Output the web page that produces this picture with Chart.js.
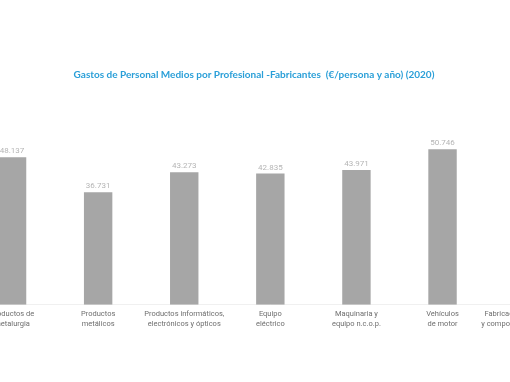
<!DOCTYPE html>
<html>
<head>
<meta charset="utf-8">
<script src="https://cdn.jsdelivr.net/npm/chart.js@4/dist/chart.umd.min.js"></script>
<style>
  html, body { margin: 0; padding: 0; background: #ffffff; overflow: hidden; }
  #wrap { position: absolute; left: -63px; top: 0; width: 643px; height: 382px; }
</style>
</head>
<body>
<div id="wrap"><canvas id="c"></canvas></div>
<script>
const titleText = 'Gastos de Personal Medios por Profesional -Fabricantes  (€/persona y año) (2020)';
const categories = [
  ['Productos de', 'metalurgia'],
  ['Productos', 'metálicos'],
  ['Productos informáticos,', 'electrónicos y ópticos'],
  ['Equipo', 'eléctrico'],
  ['Maquinaria y', 'equipo n.c.o.p.'],
  ['Vehículos', 'de motor'],
  ['Fabricación de carrocerías', 'y componentes de vehículos']
];
const values = [48137, 36731, 43273, 42835, 43971, 50746, 45000];

function fmt(v) {
  return String(Math.round(v)).replace(/\B(?=(\d{3})+(?!\d))/g, '.');
}

const valueLabels = {
  id: 'valueLabels',
  afterDatasetsDraw(chart) {
    const ctx = chart.ctx;
    const meta = chart.getDatasetMeta(0);
    ctx.save();
    ctx.font = '8px Roboto';
    ctx.fillStyle = '#b5b5b5';
    ctx.textAlign = 'center';
    ctx.textBaseline = 'bottom';
    meta.data.forEach((bar, i) => {
      ctx.fillText(fmt(values[i]), bar.x, bar.y - 2);
    });
    ctx.restore();
  }
};

const centeredTitle = {
  id: 'centeredTitle',
  afterDraw(chart) {
    const ctx = chart.ctx;
    ctx.save();
    ctx.font = 'bold 10px Lato';
    ctx.fillStyle = '#2a9fd8';
    ctx.textAlign = 'center';
    ctx.textBaseline = 'middle';
    ctx.fillText(titleText, 317, 75);
    ctx.restore();
  }
};

new Chart(document.getElementById('c'), {
  type: 'bar',
  data: {
    labels: categories,
    datasets: [{
      data: values,
      backgroundColor: '#a6a6a6',
      borderWidth: 0,
      barPercentage: 0.33,
      categoryPercentage: 1.0
    }]
  },
  options: {
    responsive: true,
    maintainAspectRatio: false,
    animation: false,
    layout: { autoPadding: false, padding: { left: 32, right: 0, top: 121, bottom: 49 } },
    plugins: {
      legend: { display: false },
      tooltip: { enabled: false },
      title: { display: false }
    },
    scales: {
      x: {
        grid: { display: false, drawTicks: false },
        border: { display: true, color: '#f0f0f0' },
        ticks: {
          color: '#6e6e6e',
          font: { family: 'Roboto', size: 7.5, lineHeight: 1.35 },
          padding: 4,
          maxRotation: 0,
          autoSkip: false
        }
      },
      y: {
        display: false,
        min: 0,
        max: 60000
      }
    }
  },
  plugins: [valueLabels, centeredTitle]
});
</script>
</body>
</html>
